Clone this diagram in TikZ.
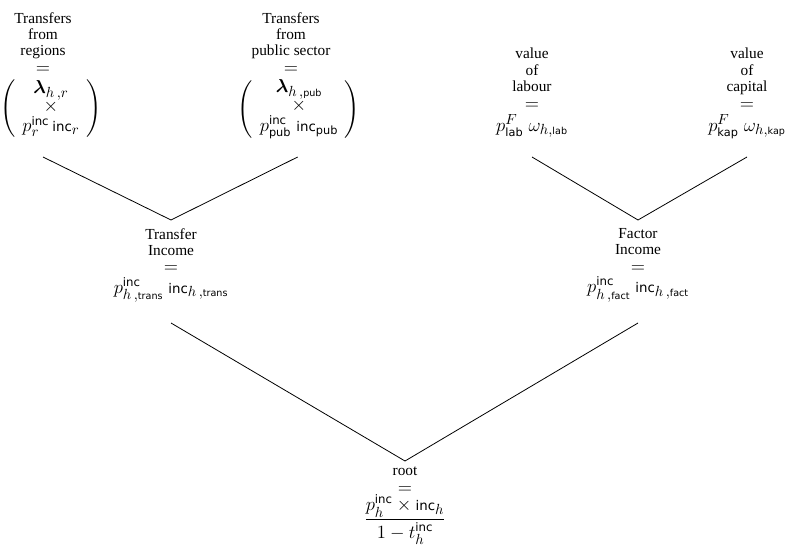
\RequirePackage{fix-cm}
\documentclass[tikz,border=0pt]{standalone}
\usepackage{amsmath,amsbsy}
\usepackage[no-math]{fontspec}
\setmainfont{Liberation Serif}
\newfontfamily\djv{DejaVu Sans}
\DeclareMathSizes{11.5}{14}{11}{7}
\newcommand{\incw}{\mbox{\djv\fontsize{10}{10}\selectfont inc}}
\newcommand{\incs}{\mbox{\djv\fontsize{8.8}{8.8}\selectfont inc}}
\newcommand{\sA}[1]{\mbox{\djv\fontsize{8.5}{8.5}\selectfont #1}}
\newcommand{\sB}[1]{\mbox{\djv\fontsize{7.2}{7.2}\selectfont #1}}
\newcommand{\lam}{\boldsymbol{\lambda}}
\begin{document}
\begin{tikzpicture}[x=0.75pt,y=-0.75pt,
  lbl/.style={align=center, inner sep=0pt, anchor=north, font=\fontsize{11.5}{12.2}\selectfont},
  edge/.style={draw=black, line width=0.6pt}]
\useasboundingbox (0,0) rectangle (788,549);
\node[lbl] (tl) at (43,12) {Transfers\\from\\regions\\[1pt]$=$\\[4pt]\hspace*{12pt}$\left(\begin{array}{c}\lam_{h\,,r}\\ \times\\ p_r^{\incs}\,\incw_r\end{array}\right)$};
\node[lbl] (tp) at (291,12) {Transfers\\from\\public sector\\[1pt]$=$\\[4pt]\hspace*{12pt}$\left(\begin{array}{c}\lam_{h\,,\sB{pub}}\\ \times\\ p_{\sA{pub}}^{\incs}\;\incw_{\sA{pub}}\end{array}\right)$};
\node[lbl] (lab) at (532,48) {value\\of\\labour\\[1pt]$=$\\[3pt]$p^F_{\sA{lab}}\;\omega_{h,\sB{lab}}$};
\node[lbl] (kap) at (747,48) {value\\of\\capital\\[1pt]$=$\\[3pt]$p^F_{\sA{kap}}\;\omega_{h,\sB{kap}}$};
\node[lbl] (ti) at (171,228) {Transfer\\Income\\[1pt]$=$\\[3pt]$p^{\incs}_{h\,,\sB{trans}}\;\incw_{h\,,\sB{trans}}$};
\node[lbl] (fi) at (638,228) {Factor\\Income\\[1pt]$=$\\[3pt]$p^{\incs}_{h\,,\sB{fact}}\;\incw_{h\,,\sB{fact}}$};
\node[lbl] (root) at (405,467) {root\\[1pt]$=$\\$\dfrac{p^{\incs}_h\times\incw_h}{1-t^{\incs}_h}$};
\draw[edge] (tl |- 0,157) -- (ti |- 0,220);
\draw[edge] ([xshift=5pt]tp.center |- 0,157) -- (ti |- 0,220);
\draw[edge] (lab |- 0,157) -- (fi |- 0,220);
\draw[edge] (kap |- 0,157) -- (fi |- 0,220);
\draw[edge] (ti |- 0,323) -- (root |- 0,461);
\draw[edge] (fi |- 0,323) -- (root |- 0,461);
\end{tikzpicture}
\end{document}
